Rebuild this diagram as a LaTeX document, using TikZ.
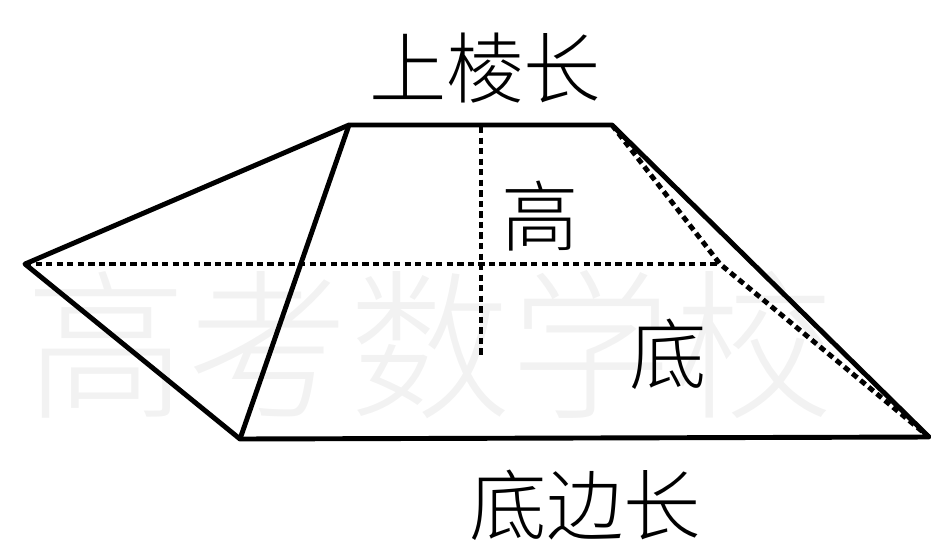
\documentclass[tikz,border=0pt]{standalone}
\usepackage{fontspec}
\IfFontExistsTF{Noto Sans CJK SC Light}
  {\newfontfamily\cjk{Noto Sans CJK SC Light}}
  {\newfontfamily\cjk{Noto Sans CJK SC}}
\usetikzlibrary{calc, positioning}

\begin{document}
\begin{tikzpicture}[x=0.02cm, y=-0.02cm,
    canh/.style={line width=2.8pt, line join=round},
    khuat/.style={line width=2.8pt, dash pattern=on 3.6pt off 2.4pt},
    nhan/.style={font=\cjk\fontsize{44}{48}\selectfont, inner sep=0pt},
    chimo/.style={font=\cjk\fontsize{92}{96}\selectfont, text=black!5, inner sep=0pt}]

            \useasboundingbox (0,0) rectangle (931,542);

            % Chữ mờ phía sau
            \node[chimo] (wm) at (430,345) {高考数学校};

            % Các đỉnh
            \coordinate (L) at (25,264);
            \coordinate (T1) at (349,125);
            \coordinate (T2) at (612,125);
            \coordinate (B1) at (240,439);
            \coordinate (B2) at (929,437);
            \coordinate (M) at (720,264);
            \coordinate (H1) at (481,127);
            \coordinate (H2) at (481,355);

            % Các cạnh khuất
            \draw[khuat] (L) -- (M);
            \draw[khuat] (T2) -- (M) -- (B2);
            \draw[khuat] (H1) -- (H2);

            % Các cạnh thấy được
            \draw[canh] (L) -- (T1) -- (T2) -- (B2) -- (B1) -- cycle;
            \draw[canh] (T1) -- (B1);

            % Ghi chú
            \node[nhan] (tren) at (485,68) {上棱长};
            \node[nhan] (cao) at (540,216) {高};
            \node[nhan] (day) at (668,354) {底};
            \node[nhan] (dayc) at (585,505) {底边长};

            \end{tikzpicture}
\end{document}
